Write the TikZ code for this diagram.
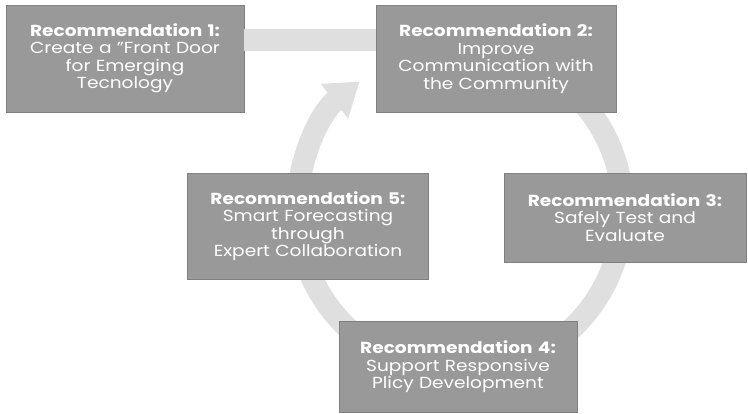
\documentclass[tikz,border=0pt]{standalone}
\usepackage{fontspec}
\setmainfont{Poppins}[FakeStretch=1.16]
\usetikzlibrary{arrows.meta}

\begin{document}
\begin{tikzpicture}[x=1pt, y=-1pt, every node/.style={font=\fontsize{16}{17.5}\selectfont, text=white}, rec/.style={draw=black!50, fill=gray!80, align=center, inner sep=0pt, text width=236pt}, band/.style={draw=gray!25, line width=22pt}]
	\useasboundingbox (0,0) rectangle (748,414);
	\coordinate (O) at (460,210);
	\coordinate (tip) at (362,73);
	\draw[band, -{Triangle[width=42pt, length=32pt]}] (O) ++(-60:163) arc[start angle=-60, end angle=232, radius=163];
	\node[rec, minimum width=238pt, minimum height=107pt] (r1) at (125,58.5) {\textbf{Recommendation 1:}\\Create a \symbol{34}Front Door\\for Emerging\\Tecnology};
	\node[rec, minimum width=240pt, minimum height=107pt] (r2) at (496,58.5) {\textbf{Recommendation 2:}\\Improve\\Communication with\\the Community};
	\node[rec, minimum width=241pt, minimum height=106pt] (r5) at (308,226) {\textbf{Recommendation 5:}\\Smart Forecasting\\through\\Expert Collaboration};
	\node[rec, minimum width=242pt, minimum height=89pt] (r3) at (625,217.5) {\textbf{Recommendation 3:}\\Safely Test and\\Evaluate};
	\node[rec, minimum width=238pt, minimum height=91pt] (r4) at (458,367) {\textbf{Recommendation 4:}\\Support Responsive\\Plicy Development};
	\draw[band] ([yshift=18.5pt]r1.east) -- ([yshift=18.5pt]r2.west);
\end{tikzpicture}
\end{document}
